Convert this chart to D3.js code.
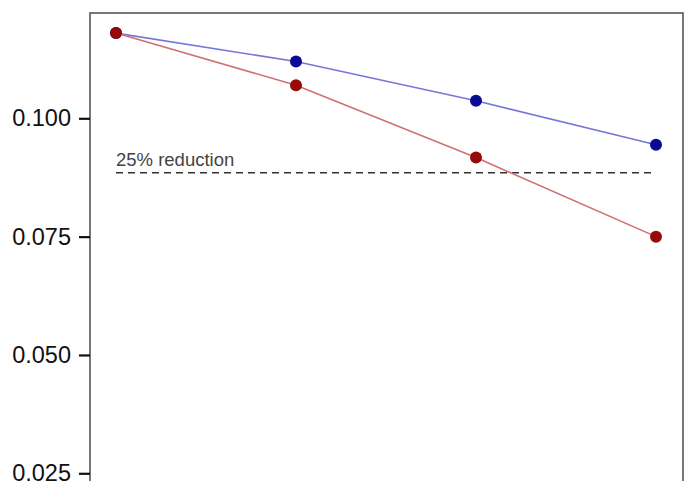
<!DOCTYPE html>
<html>
<head>
<meta charset="utf-8">
<script src="https://cdn.jsdelivr.net/npm/d3@7"></script>
<style>
  html, body { margin: 0; padding: 0; background: #fff; overflow: hidden; }
  svg { display: block; font-family: "Liberation Sans", Arial, Helvetica, sans-serif; }
</style>
</head>
<body>
<svg id="chart" width="685" height="481"></svg>
<script>
// Time steps along the x axis
const steps = ["1", "2", "3", "4"];
// Two scenarios
const seriesBlue = [0.1180, 0.1120, 0.1037, 0.0944];
const seriesRed  = [0.1180, 0.1070, 0.0917, 0.0750];
// Y axis ticks
const yTicks = [0.025, 0.050, 0.075, 0.100];
// Reference level: 25% below the starting value
const reductionLevel = seriesRed[0] * 0.75;
const reductionLabel = "25% reduction";

const svg = d3.select("#chart");

const panel = { left: 90, top: 13, right: 683, bottom: 520 };

const x = d3.scalePoint()
  .domain(steps)
  .range([116, 656]);

const y = d3.scaleLinear()
  .domain([0.025, 0.100])
  .range([473.3, 118.3]);

// Panel background and border
svg.append("rect")
  .attr("x", panel.left)
  .attr("y", panel.top)
  .attr("width", panel.right - panel.left)
  .attr("height", panel.bottom - panel.top)
  .attr("fill", "#fff")
  .attr("stroke", "#555")
  .attr("stroke-width", 1.6);

// Y axis
const yAxis = d3.axisLeft(y)
  .tickValues(yTicks)
  .tickFormat(d3.format(".3f"))
  .tickSize(11)
  .tickPadding(8);

const gy = svg.append("g")
  .attr("transform", `translate(${panel.left},0)`)
  .call(yAxis);
gy.select(".domain").remove();
gy.selectAll(".tick line").attr("stroke", "#111").attr("stroke-width", 2.2);
gy.selectAll(".tick text")
  .attr("fill", "#111")
  .style("font-size", "23.5px");

// Reference dashed line and its label
svg.append("line")
  .attr("x1", x(steps[0]))
  .attr("x2", x(steps[steps.length - 1]))
  .attr("y1", y(reductionLevel))
  .attr("y2", y(reductionLevel))
  .attr("stroke", "#333")
  .attr("stroke-width", 1.4)
  .attr("stroke-dasharray", "7,5");

svg.append("text")
  .attr("x", x(steps[0]))
  .attr("y", y(reductionLevel) - 6.5)
  .attr("fill", "#444")
  .style("font-size", "18.5px")
  .text(reductionLabel);

const line = d3.line()
  .x((d, i) => x(steps[i]))
  .y(d => y(d));

function drawSeries(values, lineColor, pointColor) {
  svg.append("path")
    .datum(values)
    .attr("d", line)
    .attr("fill", "none")
    .attr("stroke", lineColor)
    .attr("stroke-width", 1.6);
  svg.append("g")
    .selectAll("circle")
    .data(values)
    .join("circle")
    .attr("cx", (d, i) => x(steps[i]))
    .attr("cy", d => y(d))
    .attr("r", 6)
    .attr("fill", pointColor);
}

drawSeries(seriesBlue, "#7777d6", "#0a0a96");
drawSeries(seriesRed, "#d07070", "#960a0a");
</script>
</body>
</html>
